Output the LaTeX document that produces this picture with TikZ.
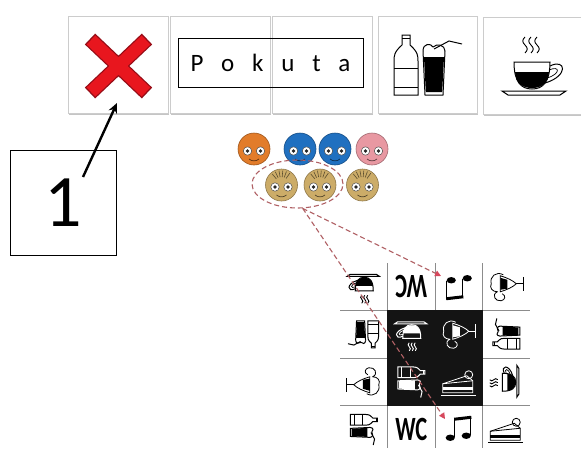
\documentclass[tikz,border=0pt]{standalone}
\usepackage{fontspec}
\setmainfont{Carlito}
\newfontfamily\spacedfont[WordSpace=3.15]{Carlito}
\usetikzlibrary{positioning,arrows.meta,shadows,shapes.geometric}
\definecolor{MarkRed}{RGB}{232,22,30}
\definecolor{MarkDark}{RGB}{150,12,22}
\definecolor{FaceOrange}{RGB}{226,124,42}
\definecolor{FaceBlue}{RGB}{32,112,192}
\definecolor{FacePink}{RGB}{232,152,162}
\definecolor{FaceTan}{RGB}{204,172,104}
\definecolor{PathRed}{RGB}{176,96,100}
\definecolor{TipRed}{RGB}{214,72,92}

% small pictograms, drawn in the current colour (y axis points down)
\tikzset{
pics/face/.style={code={
  \filldraw[fill=#1,draw=#1!70!black,line width=0.6pt] (0,0) circle (16);
  \filldraw[fill=white,draw=black!70,line width=0.5pt] (-6.5,2) circle (4.2) (6.5,2) circle (4.2);
  \fill[black!85] (-6.5,2) circle (1.8) (6.5,2) circle (1.8);
  \draw[#1!40!black,line width=0.7pt] (-5,10) .. controls (-2,12.5) and (2,12.5) .. (5,10);
}},
pics/hair/.style={code={
  \foreach \a in {-130,-115,...,-50}
    \draw[FaceTan!45!black,line width=0.6pt] (\a:8) -- (\a:14.5);
}},
pics/cup/.style={code={
  \foreach \s in {-8,-2,4}
    \draw[line width=0.9pt] (\s,-33) .. controls ({\s-3},-30) and ({\s-3},-28) .. (\s,-25)
      .. controls ({\s+3},-22) and ({\s+3},-20) .. (\s,-17);
  \draw[line width=1pt] (-19,-8) -- (17,-8) .. controls (17,12) and (10,19) .. (-1,19)
    .. controls (-12,19) and (-19,12) .. (-19,-8) -- cycle;
  \fill (-18,2) -- (16,2) .. controls (15,13) and (9,18) .. (-1,18)
    .. controls (-11,18) and (-17,13) .. (-18,2) -- cycle;
  \draw[line width=1pt] (17,-4) .. controls (33,-12) and (36,6) .. (12,13);
  \draw[line width=0.7pt] (16,0) .. controls (27,-5) and (28,4) .. (14,8);
  \draw[line width=1pt] (-31,21) -- (33,21) -- (27,25) -- (-25,25) -- cycle;
}},
pics/drinks/.style={code={
  \draw[line width=1pt] (-25,-30) -- (-17,-30) -- (-17,-20) .. controls (-9,-13) and (-9,-9) .. (-9,-4)
    -- (-9,30) -- (-33,30) -- (-33,-4) .. controls (-33,-9) and (-33,-13) .. (-25,-20) -- cycle;
  \draw[line width=0.7pt] (-25,-27) -- (-17,-27) (-33,3) -- (-9,3) (-33,22) -- (-9,22);
  \draw[line width=1pt] (-4,-14) -- (-2,30) -- (16,30) -- (18,-14);
  \draw[line width=1pt] (-4,-14) .. controls (-4,-22) and (4,-22) .. (6,-18)
    .. controls (10,-22) and (18,-20) .. (18,-14);
  \fill (-3,-8) -- (17,-8) -- (15.2,27) -- (-1.2,27) -- cycle;
  \draw[line width=1pt] (7,-16) -- (22,-24) -- (35,-21);
}},
pics/wine/.style={code={
  \draw[line width=0.8pt] (-3,-12) .. controls (-10,-16) and (-17,-10) .. (-15,-3)
    .. controls (-17,1) and (-14,5) .. (-9,5) .. controls (-15,8) and (-11,15) .. (-5,14)
    .. controls (-1,13) and (0,9) .. (-4,7);
  \draw[line width=0.8pt] (-6,-11) .. controls (1,-9) and (7,-6) .. (10,-3)
    .. controls (7,0) and (1,3) .. (-6,5) -- cycle;
  \fill (-6,-9) -- (1,-7) -- (1,2) -- (-6,3) -- cycle;
  \draw[line width=0.8pt] (10,-3) -- (17,-3) (17,-10) -- (17,4);
}},
pics/cake/.style={code={
  \draw[line width=0.8pt] (-16,2) -- (8,-6) -- (14,-1) -- (14,11) -- (-16,11) -- cycle;
  \draw[line width=0.8pt] (-16,2) -- (14,-1);
  \fill (-16,5.5) -- (14,5.5) -- (14,8.5) -- (-16,8.5) -- cycle;
  \draw[line width=0.8pt] (10,-7) circle (4);
  \draw[line width=0.8pt] (-18,13.5) -- (17,13.5);
}},
pics/notes/.style={code={
  \draw[line width=1.2pt] (-4,8) -- (-4,-10) (12,6) -- (12,-12);
  \draw[line width=3pt] (-4.6,-10) -- (12.6,-12);
  \fill (-8.5,8.5) ellipse (4.6 and 3.2) (7.5,6.5) ellipse (4.6 and 3.2);
}}
}

\begin{document}
\begin{tikzpicture}[x=1pt,y=-1pt,
tile/.style={rectangle,draw=black!20,fill=white,minimum width=100pt,minimum height=97pt,
  drop shadow={shadow xshift=0.8pt,shadow yshift=-1.6pt,opacity=0.45}},
cell/.style={rectangle,minimum size=47.5pt,inner sep=0pt},
gridline/.style={draw=black!45,line width=0.8pt},
arrow/.style={-{Stealth[length=10pt,width=9pt]},line width=2.4pt},
hop/.style={draw=PathRed,line width=1.1pt,dash pattern=on 5pt off 3pt,
  -{Triangle[length=6pt,width=6pt,color=TipRed]}},
wc/.style={font=\bfseries\fontsize{34}{34}\selectfont,inner sep=0pt}
]
\clip (0,0) rectangle (581,448);
\fill[white] (0,0) rectangle (581,448);

% top row of tiles
\node[tile] (t1) at (118,64.5) {};
\node[tile] (t2) at (220,64.5) {};
\node[tile] (t3) at (322,64.5) {};
\node[tile,minimum width=99pt] (t4) at (427.5,64.5) {};
\node[tile,minimum width=117pt] (t5) at (541.5,65.5) {};

\draw[line width=15pt,MarkDark] (90,39) -- (147,93) (147,39) -- (90,93);
\draw[line width=12.5pt,MarkRed] (91,40) -- (146,92) (146,40) -- (91,92);

\node[draw,line width=0.8pt,minimum width=185pt,minimum height=49pt,
  font=\spacedfont\fontsize{25}{25}\selectfont] (pokuta) at (270.5,62.5) {P o k u t a};

\pic at (427,65) {drinks};
\pic at (533,70) {cup};

% numbered callout
\node[draw,line width=0.8pt,minimum width=106pt,minimum height=105pt,
  font=\fontsize{74}{74}\selectfont] (one) at (63,202.5) {1};
\coordinate (tail) at (83,177);
\coordinate (head) at (117,103);
\draw[arrow] (tail) -- (head);

% faces
\pic at (254,149) {face=FaceOrange};
\pic at (300,149) {face=FaceBlue};
\pic at (335,149) {face=FaceBlue};
\pic at (372,149) {face=FacePink};
\foreach \x in {281.5,320,362.5} {
  \pic at (\x,185) {face=FaceTan};
  \pic at (\x,185) {hair};
}
\node[ellipse,draw=PathRed,dash pattern=on 5pt off 3pt,line width=1.1pt,
  minimum width=91pt,minimum height=48pt] (grp) at (297.5,184) {};

% board
\foreach \r in {1,...,4}
  \foreach \c in {1,...,4}
    \node[cell] (c\r\c) at ({340+47.5*(\c-0.5)},{263+47.5*(\r-0.5)}) {};
\foreach \x in {387.5,435,482.5} \draw[gridline] (\x,263) -- (\x,448);
\foreach \y in {310.5,358,405.5} \draw[gridline] (340,\y) -- (530,\y);
\fill[black!92] (c22.north west) rectangle (c33.south east);

\pic[scale=0.5,rotate=180] at (c11) {cup};
\node[wc,rotate=180] at (c12) {\scalebox{0.66}[1]{WC}};
\pic[rotate=180] at (c13) {notes};
\pic at (c14) {wine};
\pic[scale=0.45,rotate=180] at (c21) {drinks};
\pic[white,scale=0.5,rotate=180] at (c22) {cup};
\pic[white] at (c23) {wine};
\pic[scale=0.45,rotate=90] at (c24) {drinks};
\pic[rotate=180] at (c31) {wine};
\pic[white,scale=0.45,rotate=-90] at (c32) {drinks};
\pic[white] at (c33) {cake};
\pic[scale=0.5,rotate=90] at (c34) {cup};
\pic[scale=0.45,rotate=-90] at (c41) {drinks};
\node[wc] at (c42) {\scalebox{0.66}[1]{WC}};
\pic at (c43) {notes};
\pic at (c44) {cake};

% dashed paths to the notes
\coordinate (notesup) at (441,276);
\coordinate (notesdown) at (445,419);
\draw[hop] (grp.-78) -- (notesup);
\draw[hop] (grp.-78) -- (notesdown);
\end{tikzpicture}
\end{document}
